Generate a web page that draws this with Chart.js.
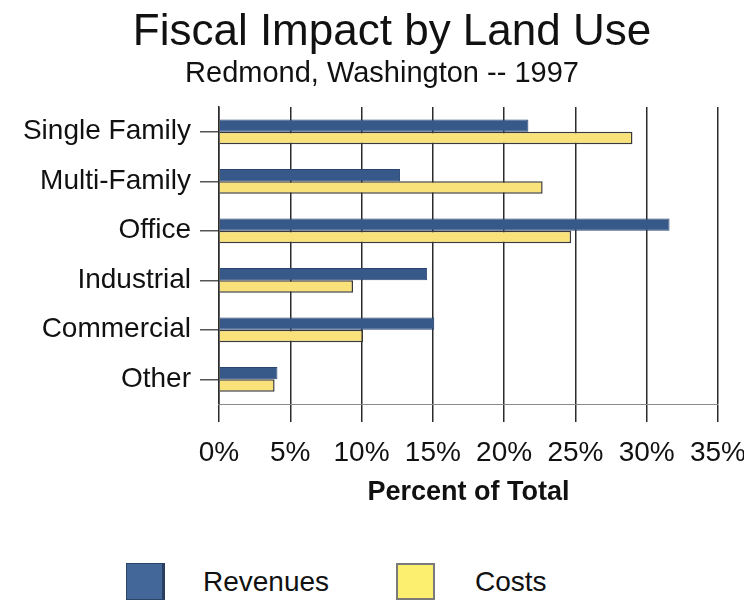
<!DOCTYPE html>
<html>
<head>
<meta charset="utf-8">
<script src="https://cdn.jsdelivr.net/npm/chart.js@4.4.1/dist/chart.umd.min.js"></script>
<style>
  html, body { margin: 0; padding: 0; background: #fff; }
  #wrap { position: relative; width: 744px; height: 602px; font-family: "Liberation Sans", Arial, sans-serif; color: #111; }
  #chart-box { position: absolute; left: 0; top: 0; width: 744px; height: 530px; }
  .title { position: absolute; left: 40px; top: 4px; width: 704px; text-align: center; font-size: 44px; line-height: 52px; white-space: nowrap; }
  .subtitle { position: absolute; left: 20px; top: 55px; width: 724px; text-align: center; font-size: 29px; line-height: 34px; white-space: nowrap; }
  .legend { position: absolute; left: 0; top: 530px; width: 744px; height: 72px; font-size: 28px; line-height: 32px; }
  .legend span { position: absolute; }
  .swatch { width: 39px; height: 37px; box-sizing: border-box; }
</style>
</head>
<body>
<div id="wrap">
  <div id="chart-box"><canvas id="fiscal"></canvas></div>
  <div class="title">Fiscal Impact by Land Use</div>
  <div class="subtitle">Redmond, Washington -- 1997</div>
  <div class="legend">
    <span class="swatch" style="left:126px;top:33px;background:#44679a;border:1px solid #2c4466;border-right:3px solid #2a3f5f;"></span>
    <span style="left:203px;top:36px;">Revenues</span>
    <span class="swatch" style="left:396px;top:33px;background:#fcee6e;border:2px solid #7a7a7a;"></span>
    <span style="left:475px;top:36px;">Costs</span>
  </div>
</div>
<script>
// Datos (porcentaje del total)
const landUses = ['Single Family', 'Multi-Family', 'Office', 'Industrial', 'Commercial', 'Other'];
const revenues = [21.7, 12.7, 31.6, 14.6, 15.1, 4.1];
const costs = [29.0, 22.7, 24.7, 9.4, 10.1, 3.9];
const xTicks = [0, 5, 10, 15, 20, 25, 30, 35];

const FONT = '"Liberation Sans", Arial, sans-serif';

new Chart(document.getElementById('fiscal'), {
  type: 'bar',
  data: {
    labels: landUses,
    datasets: [
      {
        label: 'Revenues',
        data: revenues,
        backgroundColor: '#36598a',
        borderColor: '#2a4670',
        borderWidth: 1,
        categoryPercentage: 0.5,
        barPercentage: 1.0,
      },
      {
        label: 'Costs',
        data: costs,
        backgroundColor: '#f9e27a',
        borderColor: '#3a3a3a',
        borderWidth: 1.5,
        categoryPercentage: 0.5,
        barPercentage: 1.0,
      },
    ],
  },
  options: {
    indexAxis: 'y',
    responsive: true,
    maintainAspectRatio: false,
    animation: false,
    // el título va en HTML encima; el área de datos empieza en y=107
    layout: { padding: { left: 0, right: 0, top: 107, bottom: 21 } },
    plugins: {
      legend: { display: false },
      tooltip: { enabled: false },
    },
    scales: {
      x: {
        min: 0,
        max: 35,
        afterBuildTicks: (axis) => { axis.ticks = xTicks.map((v) => ({ value: v })); },
        afterFit: (scale) => {
          // alto fijo del eje y margen derecho como en el original
          scale.height = 105;
          scale.paddingRight = 26;
        },
        ticks: {
          color: '#111',
          font: { family: FONT, size: 28 },
          padding: 14,
          maxRotation: 0,
          callback: (v) => v + '%',
        },
        grid: { color: '#2b2b2b', lineWidth: 1.5, tickLength: 18 },
        border: { display: true, color: '#8a8a8a', width: 1 },
        title: {
          display: true,
          text: 'Percent of Total',
          color: '#111',
          font: { family: FONT, size: 27, weight: 'bold' },
          padding: { top: 6, bottom: 0 },
        },
      },
      y: {
        afterFit: (scale) => { scale.width = 219; },
        ticks: { color: '#111', font: { family: FONT, size: 28 }, padding: 9 },
        grid: { offset: false, drawOnChartArea: false, tickLength: 19, color: '#555', lineWidth: 1.5 },
        border: { display: true, color: '#2b2b2b', width: 1.5 },
      },
    },
  },
});
</script>
</body>
</html>
